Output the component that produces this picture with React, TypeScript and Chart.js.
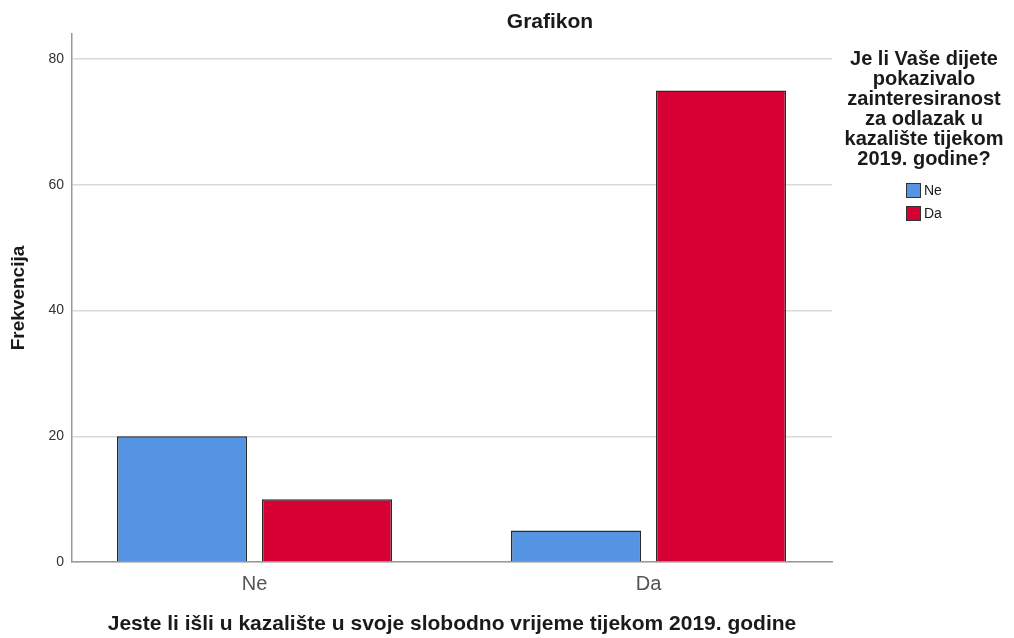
import { useEffect, useRef } from "react";
import { Chart, registerables } from "chart.js";

Chart.register(...registerables);

const categories = ["Ne", "Da"];
const seriesLabels = ["Ne", "Da"];
const seriesNe = [20, 5];
const seriesDa = [10, 75];
const yTickValues = [0, 20, 40, 60, 80];
const chartTitle = "Grafikon";
const xAxisTitle = "Jeste li išli u kazalište u svoje slobodno vrijeme tijekom 2019. godine";
const yAxisTitle = "Frekvencija";
const legendTitleLines = [
  "Je li Vaše dijete",
  "pokazivalo",
  "zainteresiranost",
  "za odlazak u",
  "kazalište tijekom",
  "2019. godine?",
];

const FONT = "'Liberation Sans', Arial, sans-serif";
const BLUE = "#5593E3";
const RED = "#D60032";

const overlayPlugin = {
  id: "overlay",
  afterDraw(chart: any) {
    const ctx = chart.ctx as CanvasRenderingContext2D;
    ctx.save();
    // chart title
    ctx.fillStyle = "#1a1a1a";
    ctx.font = `bold 21px ${FONT}`;
    ctx.textAlign = "center";
    ctx.textBaseline = "alphabetic";
    ctx.fillText(chartTitle, 550, 28);
    // legend title
    ctx.font = `bold 20px ${FONT}`;
    legendTitleLines.forEach((line, i) => {
      ctx.fillText(line, 924, 65 + i * 20);
    });
    // legend items
    ctx.textAlign = "left";
    ctx.textBaseline = "middle";
    ctx.font = `14px ${FONT}`;
    chart.data.datasets.forEach((ds: any, i: number) => {
      const y = 183 + i * 23;
      ctx.fillStyle = ds.backgroundColor;
      ctx.fillRect(906, y, 15, 15);
      ctx.strokeStyle = "#333";
      ctx.lineWidth = 1;
      ctx.strokeRect(906.5, y + 0.5, 14, 14);
      ctx.fillStyle = "#1a1a1a";
      ctx.fillText(ds.label, 924, y + 8);
    });
    ctx.restore();
  },
};

export default function App() {
  const canvasRef = useRef<HTMLCanvasElement | null>(null);

  useEffect(() => {
    if (!canvasRef.current) return;
    const mk = (vals: number[]) => vals.map((v, i) => ({ x: i, y: v }));
    const chart = new Chart(canvasRef.current, {
      type: "bar",
      data: {
        datasets: [
          {
            label: seriesLabels[0],
            data: mk(seriesNe),
            backgroundColor: BLUE,
            borderColor: "#2a2a2a",
            borderWidth: 1.5,
          },
          {
            label: seriesLabels[1],
            data: mk(seriesDa),
            backgroundColor: RED,
            borderColor: "#2a2a2a",
            borderWidth: 1.5,
          },
        ] as any,
      },
      options: {
        animation: false,
        responsive: false,
        maintainAspectRatio: false,
        categoryPercentage: 0.736,
        barPercentage: 0.8966,
        layout: { padding: { top: 34, right: 182, left: 0, bottom: 0 } },
        plugins: {
          legend: { display: false },
          title: { display: false },
          tooltip: { enabled: false },
        },
        scales: {
          x: {
            type: "linear",
            offset: false,
            min: -0.4632,
            max: 1.4657,
            afterFit: (s: any) => {
              s.height = 76;
            },
            afterBuildTicks: (s: any) => {
              s.ticks = categories.map((_, i) => ({ value: i }));
            },
            grid: { display: false, drawTicks: false, offset: false },
            border: { display: true, color: "#9a9a9a", width: 1.5 },
            ticks: {
              padding: 10,
              color: "#555",
              font: { family: FONT, size: 20 },
              callback: (v: any) => categories[Number(v)] ?? "",
            },
            title: {
              display: true,
              text: xAxisTitle,
              color: "#1a1a1a",
              font: { family: FONT, size: 21, weight: "bold", lineHeight: 1.2 },
              padding: { top: 0, bottom: 1 },
            },
          },
          y: {
            type: "linear",
            min: 0,
            max: 84,
            afterFit: (s: any) => {
              s.width = 72;
            },
            afterBuildTicks: (s: any) => {
              s.ticks = yTickValues.map((v) => ({ value: v }));
            },
            grid: { color: "#d9d9d9", lineWidth: 1.5, drawTicks: false },
            border: { display: true, color: "#9a9a9a", width: 1.5 },
            ticks: {
              padding: 8,
              color: "#333",
              font: { family: FONT, size: 14 },
            },
            title: {
              display: true,
              text: yAxisTitle,
              color: "#1a1a1a",
              font: { family: FONT, size: 19, weight: "bold", lineHeight: 1.2 },
              padding: { top: 7, bottom: 0 },
            },
          },
        },
      } as any,
      plugins: [overlayPlugin],
    });
    return () => chart.destroy();
  }, []);

  return (
    <div style={{ position: "fixed", left: 0, top: 0, width: 1014, height: 638, background: "#fff" }}>
      <canvas ref={canvasRef} width={1014} height={638} style={{ width: 1014, height: 638, display: "block" }} />
    </div>
  );
}
